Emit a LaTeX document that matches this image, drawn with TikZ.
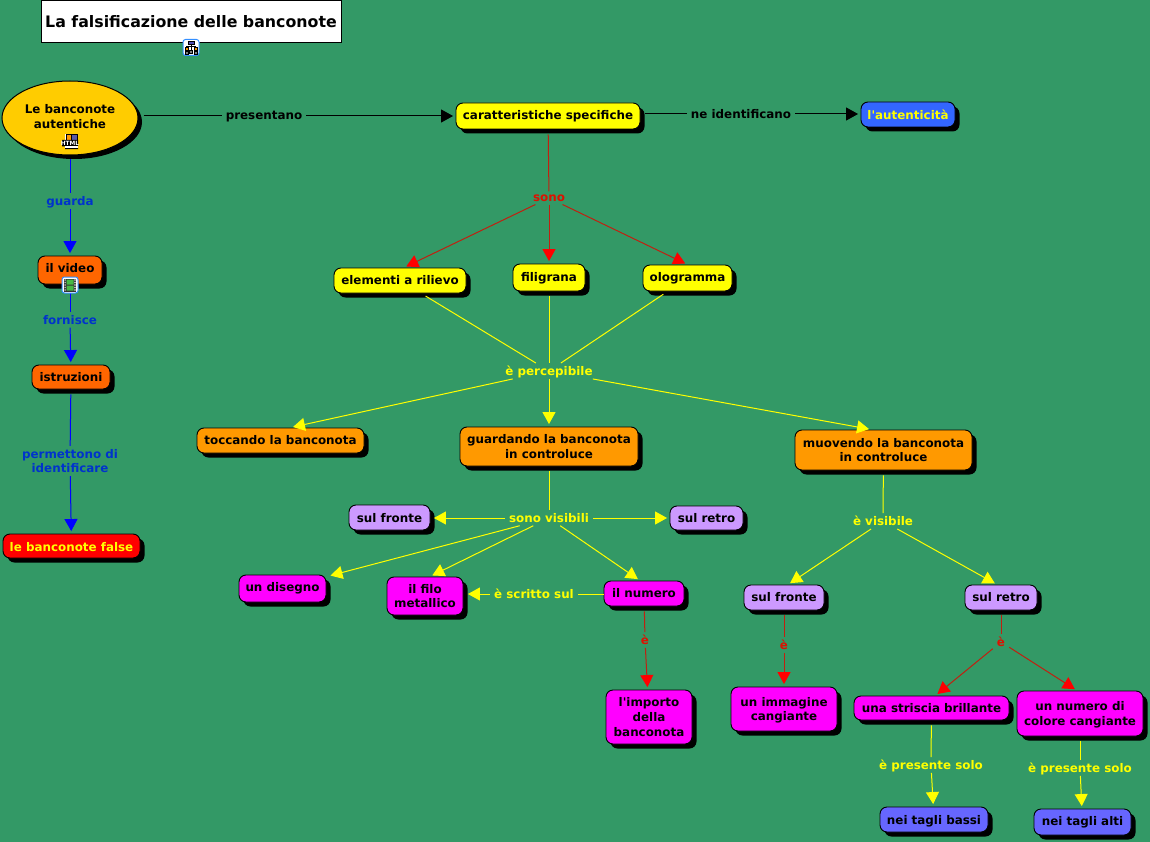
\documentclass[tikz,border=0pt]{standalone}
\usepackage{fontspec}
\setmainfont{DejaVu Sans}
\usetikzlibrary{arrows.meta,shadows,shapes.geometric}
\definecolor{bgc}{HTML}{339966}
\definecolor{cyel}{HTML}{FFFF00}
\definecolor{cora}{HTML}{FF9900}
\definecolor{cdor}{HTML}{FF6600}
\definecolor{cpur}{HTML}{CC99FF}
\definecolor{cmag}{HTML}{FF00FF}
\definecolor{cblu}{HTML}{3366FF}
\definecolor{cvio}{HTML}{6666FF}
\definecolor{cgold}{HTML}{FFCC00}
\definecolor{lblue}{HTML}{0033CC}
\definecolor{lred}{HTML}{DD1100}
\definecolor{lnred}{HTML}{C02010}
\tikzset{
 x=1pt,y=-1pt,
 every node/.style={font=\fontsize{11.9}{14.8}\selectfont\bfseries,align=center,inner sep=0pt,text depth=0pt},
 concept/.style={draw=black,line width=0.9pt,rounded corners=7pt,rectangle,
   general shadow={fill=black,shadow xshift=4.5pt,shadow yshift=-4.5pt}},
 oval/.style={draw=black,line width=1pt,ellipse,
   general shadow={fill=black,shadow xshift=4pt,shadow yshift=-4pt}},
 linklabel/.style={inner xsep=4pt,inner ysep=3pt},
 link/.style={line width=1pt},
 tip/.style={-{Triangle[length=12pt,width=13pt]},shorten >=2.5pt},
 redlink/.style={link,lnred,-{Triangle[length=12pt,width=13pt,color=red]},shorten >=2.5pt},
 redline/.style={link,lnred,shorten <=5pt},
}
\newcommand{\up}[2]{\raisebox{#1pt}{#2}}
\newcommand{\cbox}[7]{% name x1 y1 x2 y2 fill text
  \pgfmathsetmacro{\cx}{(#2+#4)/2}\pgfmathsetmacro{\cy}{(#3+#5)/2}
  \pgfmathsetmacro{\cw}{#4-#2}\pgfmathsetmacro{\ch}{#5-#3}
  \node[concept,fill=#6,minimum width=\cw pt,minimum height=\ch pt] (#1) at (\cx,\cy) {#7};}
\begin{document}
\begin{tikzpicture}
\useasboundingbox (0,0) rectangle (1150,842);
\fill[bgc] (0,0) rectangle (1150,842);
% title
\node[draw=black,line width=1pt,fill=white,minimum width=300pt,minimum height=42pt,font=\fontsize{15.8}{20}\selectfont\bfseries] (title) at (191,22) {\up{1}{La falsificazione delle banconote}};
% concepts
\node[oval,fill=cgold,minimum width=136pt,minimum height=74pt] (ban) at (70,118) {};
\node (bantext) at (70,116.5) {Le banconote\\autentiche};
\cbox{video}{38}{256}{102}{284}{cdor}{\up{5}{il video}}
\cbox{istr}{32}{365}{110}{389}{cdor}{istruzioni}
\cbox{false}{3}{534}{140}{558}{red}{\up{-2}{\textcolor{cyel}{le banconote false}}}
\cbox{car}{456}{103}{640}{129}{cyel}{\up{2}{caratteristiche specifiche}}
\cbox{aut}{861}{102}{955}{127}{cblu}{\textcolor{cyel}{l\textquotesingle autenticità}}
\cbox{ele}{334}{268}{466}{293}{cyel}{\up{2}{elementi a rilievo}}
\cbox{fil}{513}{264}{585}{291}{cyel}{\up{2}{filigrana}}
\cbox{olo}{643}{265}{732}{291}{cyel}{\up{2}{ologramma}}
\cbox{toc}{197}{428}{364}{453}{cora}{\up{2}{toccando la banconota}}
\cbox{gua}{460}{427}{638}{466}{cora}{guardando la banconota\\in controluce}
\cbox{muo}{795}{430}{972}{470}{cora}{muovendo la banconota\\in controluce}
\cbox{fra}{349}{505}{430}{530}{cpur}{sul fronte}
\cbox{rea}{670}{506}{743}{530}{cpur}{sul retro}
\cbox{dis}{239}{575}{326}{602}{cmag}{\up{4}{un disegno}}
\cbox{filo}{387}{577}{463}{615}{cmag}{il filo\\metallico}
\cbox{num}{604}{581}{684}{606}{cmag}{\up{2}{il numero}}
\cbox{imp}{606}{690}{692}{744}{cmag}{l\textquotesingle importo\\della\\banconota}
\cbox{frb}{744}{585}{824}{610}{cpur}{\up{2}{sul fronte}}
\cbox{reb}{965}{585}{1037}{610}{cpur}{\up{2}{sul retro}}
\cbox{imm}{731}{687}{837}{731}{cmag}{un immagine\\cangiante}
\cbox{str}{854}{696}{1009}{720}{cmag}{una striscia brillante}
\cbox{nco}{1017}{691}{1143}{736}{cmag}{un numero di\\colore cangiante}
\cbox{bas}{880}{807}{988}{832}{cvio}{nei tagli bassi}
\cbox{alt}{1034}{809}{1131}{835}{cvio}{\up{2}{nei tagli alti}}
% labels
\node[linklabel,text=black] (lpres) at (264,115) {presentano};
\node[linklabel,text=black] (lnei) at (741,114) {ne identificano};
\node[linklabel,text=lblue] (lgua) at (70,201) {guarda};
\node[linklabel,text=lblue] (lfor) at (70,320) {fornisce};
\node[linklabel,text=lblue] (lper) at (70,461) {permettono di\\identificare};
\node[linklabel,text=lred] (lsono) at (549,198) {sono};
\node[linklabel,text=cyel] (lperc) at (549,371) {è percepibile};
\node[linklabel,text=cyel] (lvis) at (549,518) {sono visibili};
\node[linklabel,text=cyel] (lvisb) at (883,521) {è visibile};
\node[linklabel,text=cyel] (lscr) at (534,594) {è scritto sul};
\node[linklabel,text=lred] (le1) at (645,640) {è};
\node[linklabel,text=lred] (le2) at (784,645) {è};
\node[linklabel,text=lred] (le3) at (1001,642) {è};
\node[linklabel,text=cyel] (lpb) at (931,765) {è presente solo};
\node[linklabel,text=cyel] (lpa) at (1080,768) {è presente solo};
% connectors black
\draw[link,black,shorten <=5pt] (ban.east|-car) -- (lpres.west|-car);
\draw[link,black,tip] (lpres.east|-car) -- (car.west);
\draw[link,black,shorten <=5pt] (car.east|-lnei) -- (lnei.west);
\draw[link,black,tip] (lnei.east) -- (aut.west|-lnei);
% blue
\draw[link,blue,shorten <=4pt] (ban) -- (lgua);
\draw[link,blue,tip] (lgua) -- (video);
\draw[link,blue,shorten <=4pt] (video) -- (lfor);
\draw[link,blue,tip] (lfor) -- (istr);
\draw[link,blue,shorten <=5pt] (istr) -- (lper);
\draw[link,blue,tip] (lper) -- (false);
% red
\draw[redline] (car) -- (lsono);
\draw[redlink] (lsono) -- ([xshift=4pt]ele.north);
\draw[redlink] (lsono) -- (fil);
\draw[redlink] (lsono) -- (olo.north);
\draw[redline] (num) -- (le1);
\draw[redlink] (le1) -- (imp);
\draw[redline] (frb) -- (le2);
\draw[redlink] (le2) -- (imm);
\draw[redline] (reb) -- (le3);
\draw[redlink] (le3) -- ([xshift=4pt]str.north);
\draw[redlink] (le3) -- ([xshift=-3pt]nco.north);
% yellow
\draw[link,cyel,shorten <=5pt] (ele) -- (lperc);
\draw[link,cyel,shorten <=5pt] (fil) -- (lperc);
\draw[link,cyel,shorten <=5pt] (olo) -- (lperc);
\draw[link,cyel,tip] (lperc) -- ([xshift=10pt]toc.north);
\draw[link,cyel,tip] (lperc) -- (gua);
\draw[link,cyel,tip] (lperc) -- ([xshift=-12pt]muo.north);
\draw[link,cyel,shorten <=5pt] (gua) -- (lvis);
\draw[link,cyel,tip] (lvis.west) -- ([xshift=1pt]fra.east|-lvis);
\draw[link,cyel,tip] (lvis.east) -- (rea.west|-lvis);
\draw[link,cyel,tip,shorten >=0pt] (lvis) -- ([xshift=4pt,yshift=-1pt]dis.north east);
\draw[link,cyel,tip] (lvis) -- ([xshift=5pt]filo.north);
\draw[link,cyel,tip] (lvis) -- ([xshift=-4pt]num.north);
\draw[link,cyel] (num.west|-lscr) -- (lscr.east);
\draw[link,cyel,tip] (lscr.west) -- ([xshift=2pt]filo.east|-lscr);
\draw[link,cyel,shorten <=5pt] (muo) -- (lvisb);
\draw[link,cyel,tip] (lvisb) -- ([xshift=4pt]frb.north);
\draw[link,cyel,tip] (lvisb) -- ([xshift=-4pt]reb.north);
\draw[link,cyel,shorten <=5pt] (str) -- (lpb);
\draw[link,cyel,tip] (lpb) -- (bas);
\draw[link,cyel,shorten <=5pt] (nco) -- (lpa);
\draw[link,cyel,tip] (lpa) -- (alt);
% icons
\begin{scope}[shift={(191,47.5)}]
 \draw[blue!55!cyan!80,fill=white,rounded corners=2.5pt,line width=1pt] (-8,-8) rectangle (8,8);
 \draw[black,fill=blue!40!gray,line width=.7pt] (-3,-6) rectangle (3,-3);
 \draw[black,fill=cora,line width=.7pt] (-6,0) rectangle (-3,3) (3,0) rectangle (6,3);
 \draw[black,fill=gray,line width=.7pt] (-6,4) rectangle (-3,6.5) (3,4) rectangle (6,6.5) (-1.5,3) rectangle (1.5,6);
 \draw[black,line width=.6pt] (0,-3)--(0,3) (-4.5,0)--(-4.5,-1.5)--(4.5,-1.5)--(4.5,0);
\end{scope}
\begin{scope}[shift={(70,142)}]
 \fill[white] (-5,-8) rectangle (8,-1);
 \draw[black,fill=cora,line width=.6pt] (-4,-8) rectangle (1,-2);
 \draw[black,fill=blue!30!gray,line width=.6pt] (1,-8) rectangle (7,-2);
 \fill[black] (-8,-2) rectangle (8,4.5) (-5,6) rectangle (8,7.2);
 \fill[white] (-5,4.5) rectangle (8,6);
 \node[text=white,font=\fontsize{5.8}{6}\selectfont\bfseries] (htmlicon) at (0,1.2) {HTML};
\end{scope}
\begin{scope}[shift={(70,285)}]
 \draw[blue!55!cyan!80,fill=white,rounded corners=2.5pt,line width=1pt] (-8,-8) rectangle (8,8);
 \fill[black!80] (-6,-6.5) rectangle (6,6.5);
 \fill[green!45!gray] (-3.5,-5.5) rectangle (3.5,-.5) (-3.5,.5) rectangle (3.5,5.5);
 \foreach \yy in {-5,-2.5,0,2.5,5}{\fill[white] (-5.5,\yy-.7) rectangle (-4.3,\yy+.7) (4.3,\yy-.7) rectangle (5.5,\yy+.7);}
\end{scope}
\end{tikzpicture}
\end{document}
